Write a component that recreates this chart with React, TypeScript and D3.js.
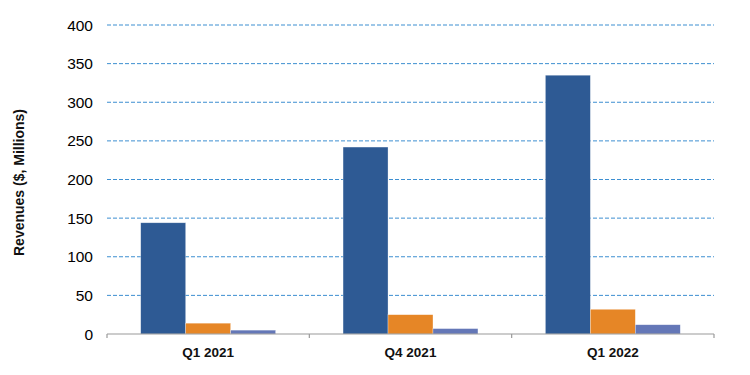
import React, { useEffect, useRef } from 'react';
import * as d3 from 'd3';

const quarters = ['Q1 2021', 'Q4 2021', 'Q1 2022'];
const seriesA = [144, 242, 335];
const seriesB = [14, 25, 32];
const seriesC = [5, 7, 12];
const yTicks = [0, 50, 100, 150, 200, 250, 300, 350, 400];
const seriesColors = ['#2E5A94', '#E68626', '#6477B7'];

export default function App() {
  const chartRef = useRef<SVGSVGElement | null>(null);

  useEffect(() => {
    const svg = d3.select(chartRef.current);
    svg.selectAll('*').remove();

    const margin = { top: 25, left: 107, right: 36, bottom: 41 };
    const width = 750;
    const height = 375;

    const x = d3.scaleBand()
      .domain(quarters)
      .range([margin.left, width - margin.right]);

    const inner = d3.scaleBand()
      .domain(['a', 'b', 'c'])
      .range([0, x.bandwidth()])
      .paddingOuter(0.75);

    const y = d3.scaleLinear()
      .domain([0, 400])
      .range([height - margin.bottom, margin.top]);

    // gridlines
    svg.append('g')
      .selectAll('line')
      .data(yTicks.filter(d => d > 0))
      .enter()
      .append('line')
      .attr('x1', margin.left)
      .attr('x2', width - margin.right)
      .attr('y1', d => y(d))
      .attr('y2', d => y(d))
      .attr('stroke', '#3D8FD1')
      .attr('stroke-width', 1)
      .attr('stroke-dasharray', '4,2');

    // y labels
    svg.append('g')
      .selectAll('text')
      .data(yTicks)
      .enter()
      .append('text')
      .attr('x', 93)
      .attr('y', d => y(d))
      .attr('dy', '0.36em')
      .attr('text-anchor', 'end')
      .attr('font-family', 'Liberation Sans, Arial, sans-serif')
      .attr('font-size', 15.5)
      .attr('fill', '#000')
      .text(d => d);

    // bars
    const groups = svg.append('g')
      .selectAll('g')
      .data(quarters)
      .enter()
      .append('g')
      .attr('transform', d => `translate(${x(d)},0)`);

    const keys = ['a', 'b', 'c'];
    groups.selectAll('rect')
      .data((d, i) => [seriesA[i], seriesB[i], seriesC[i]].map((v, k) => ({ key: keys[k], v, k })))
      .enter()
      .append('rect')
      .attr('x', d => inner(d.key) as number)
      .attr('width', inner.bandwidth())
      .attr('y', d => y(d.v))
      .attr('height', d => y(0) - y(d.v))
      .attr('fill', d => seriesColors[d.k])
      .attr('stroke', '#ffffff')
      .attr('stroke-opacity', 0.5)
      .attr('stroke-width', 0.6);

    // x axis
    const axis = svg.append('g');
    axis.append('line')
      .attr('x1', margin.left)
      .attr('x2', width - margin.right)
      .attr('y1', y(0))
      .attr('y2', y(0))
      .attr('stroke', '#9a9a9a')
      .attr('stroke-width', 1.2);

    const edges = quarters.map(q => x(q) as number).concat([width - margin.right]);
    axis.selectAll('line.tick')
      .data(edges)
      .enter()
      .append('line')
      .attr('class', 'tick')
      .attr('x1', d => d)
      .attr('x2', d => d)
      .attr('y1', y(0))
      .attr('y2', y(0) + 4)
      .attr('stroke', '#9a9a9a')
      .attr('stroke-width', 1.2);

    axis.selectAll('text')
      .data(quarters)
      .enter()
      .append('text')
      .attr('x', d => (x(d) as number) + x.bandwidth() / 2)
      .attr('y', y(0) + 23)
      .attr('text-anchor', 'middle')
      .attr('font-family', 'Liberation Sans, Arial, sans-serif')
      .attr('font-size', 13.5)
      .attr('font-weight', 'bold')
      .attr('fill', '#111')
      .text(d => d);

    svg.append('text')
      .attr('transform', `translate(24,${(margin.top + y(0)) / 2 + 3}) rotate(-90)`)
      .attr('text-anchor', 'middle')
      .attr('font-family', 'Liberation Sans, Arial, sans-serif')
      .attr('font-size', 14)
      .attr('font-weight', 'bold')
      .attr('fill', '#111')
      .text('Revenues ($, Millions)');
  }, []);

  return (
    <svg
      ref={chartRef}
      width={750}
      height={375}
      style={{ position: 'absolute', left: 0, top: 0, background: '#fff' }}
    />
  );
}
